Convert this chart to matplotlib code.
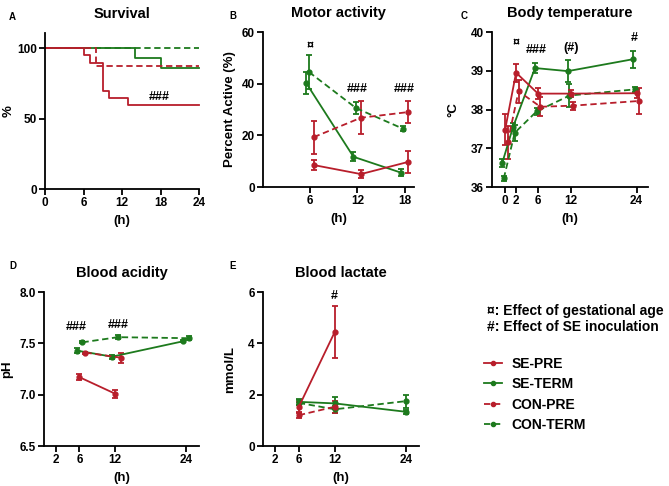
import numpy as np
import matplotlib
matplotlib.use('Agg')
import matplotlib.pyplot as plt
from matplotlib.lines import Line2D

plt.rcParams['font.family'] = ['Liberation Sans', 'DejaVu Sans']
plt.rcParams['font.weight'] = 'bold'

RED = '#B81E2B'
GREEN = '#1D7A1D'
groups = ['SE-PRE', 'SE-TERM', 'CON-PRE', 'CON-TERM']

# survival (step curves)
surv_t = {'SE-PRE': [0, 6, 7, 9, 10, 13, 24],
          'SE-TERM': [0, 14, 18, 24],
          'CON-PRE': [0, 8, 24],
          'CON-TERM': [0, 24]}
surv_pct = {'SE-PRE': [100, 95, 90, 70, 65, 60, 60],
            'SE-TERM': [100, 93, 86, 86],
            'CON-PRE': [100, 87.5, 87.5],
            'CON-TERM': [100, 100]}

# motor activity
motor_t = [6, 12, 18]
motor_mean = {'SE-PRE': [8.5, 5.0, 9.7], 'SE-TERM': [40.2, 11.7, 5.6],
              'CON-PRE': [19.3, 26.8, 29.0], 'CON-TERM': [44.5, 30.5, 22.5]}
motor_err = {'SE-PRE': [1.8, 1.5, 4.4], 'SE-TERM': [4.3, 1.8, 1.5],
             'CON-PRE': [6.4, 6.3, 4.1], 'CON-TERM': [6.5, 2.3, 1.0]}

# body temperature
temp_t = [0, 2, 6, 12, 24]
temp_mean = {'SE-PRE': [37.48, 38.95, 38.41, 38.41, 38.42],
             'SE-TERM': [36.61, 37.55, 39.07, 38.99, 39.30],
             'CON-PRE': [37.15, 38.47, 38.07, 38.10, 38.22],
             'CON-TERM': [36.22, 37.40, 37.95, 38.36, 38.52]}
temp_err = {'SE-PRE': [0.40, 0.23, 0.15, 0.10, 0.12],
            'SE-TERM': [0.10, 0.10, 0.13, 0.28, 0.22],
            'CON-PRE': [0.42, 0.30, 0.25, 0.10, 0.33],
            'CON-TERM': [0.07, 0.20, 0.08, 0.30, 0.06]}

# blood pH
ph_t = {'SE-PRE': [6, 12], 'SE-TERM': [6, 12, 24], 'CON-PRE': [6, 12], 'CON-TERM': [6, 12, 24]}
ph_mean = {'SE-PRE': [7.17, 7.01], 'SE-TERM': [7.43, 7.37, 7.52],
           'CON-PRE': [7.41, 7.36], 'CON-TERM': [7.51, 7.56, 7.55]}
ph_err = {'SE-PRE': [0.03, 0.04], 'SE-TERM': [0.02, 0.02, 0.01],
          'CON-PRE': [0.01, 0.05], 'CON-TERM': [0.01, 0.02, 0.02]}

# blood lactate
lac_t = {'SE-PRE': [6, 12], 'SE-TERM': [6, 12, 24], 'CON-PRE': [6, 12], 'CON-TERM': [6, 12, 24]}
lac_mean = {'SE-PRE': [1.53, 4.44], 'SE-TERM': [1.72, 1.66, 1.33],
            'CON-PRE': [1.20, 1.53], 'CON-TERM': [1.68, 1.43, 1.75]}
lac_err = {'SE-PRE': [0.20, 1.03], 'SE-TERM': [0.13, 0.23, 0.09],
           'CON-PRE': [0.10, 0.23], 'CON-TERM': [0.10, 0.13, 0.25]}

style = {'SE-PRE': (RED, '-'), 'SE-TERM': (GREEN, '-'),
         'CON-PRE': (RED, (0, (3.5, 2))), 'CON-TERM': (GREEN, (0, (3.5, 2)))}
draw_order = ['CON-TERM', 'SE-TERM', 'CON-PRE', 'SE-PRE']

W, H = 669, 486
fig = plt.figure(figsize=(W / 100, H / 100), dpi=100)


def add_ax(l, r, top, bot):
    ax = fig.add_axes([l / W, 1 - bot / H, (r - l) / W, (bot - top) / H])
    for s in ['top', 'right']:
        ax.spines[s].set_visible(False)
    for s in ['left', 'bottom']:
        ax.spines[s].set_linewidth(1.3)
    ax.tick_params(width=1.3, length=4, labelsize=8.5, pad=2)
    return ax


def err_series(ax, t, m, e, offsets):
    for g in draw_order:
        if g not in m:
            continue
        c, ls = style[g]
        x = np.array(t[g] if isinstance(t, dict) else t, dtype=float) + offsets.get(g, 0)
        ax.errorbar(x, m[g], yerr=e[g], color=c, ls=ls, lw=1.3, marker='o', ms=3.5,
                    capsize=2.5, elinewidth=1.3, capthick=1.3, clip_on=False)


def finish(ax, title, letter, ylabel, lx, ly, ylx=None):
    ax.set_title(title, fontsize=10.5, fontweight='bold', pad=11)
    ax.set_xlabel('(h)', fontsize=9.5, fontweight='bold', labelpad=4)
    ax.set_ylabel(ylabel, fontsize=9.5, fontweight='bold', labelpad=4)
    if ylx is not None:
        ax.yaxis.set_label_coords(ylx, 0.5)
    fig.text(lx / W, 1 - ly / H, letter, fontsize=7, fontweight='bold', ha='left', va='center')
    for lab in ax.get_xticklabels() + ax.get_yticklabels():
        lab.set_fontweight('bold')


# A Survival
ax = add_ax(45, 199, 33, 189)
for g in draw_order:
    c, ls = style[g]
    ax.step(surv_t[g], surv_pct[g], where='post', color=c, ls=ls, lw=1.3, clip_on=False)
ax.set_xlim(0, 24)
ax.set_ylim(0, 111)
ax.set_xticks([0, 6, 12, 18, 24])
ax.set_yticks([0, 50, 100])
ax.text(17.8, 61.5, '###', fontsize=9, ha='center', va='bottom')
finish(ax, 'Survival', 'A', '%', 9, 17, ylx=-0.2)

# B Motor activity
ax = add_ax(263, 414, 32, 187)
err_series(ax, motor_t, motor_mean, motor_err,
           {'SE-PRE': 0.45, 'CON-PRE': 0.45, 'SE-TERM': -0.5, 'CON-TERM': -0.15})
ax.set_xlim(0, 19.2)
ax.set_ylim(0, 60)
ax.set_xticks([6, 12, 18])
ax.set_yticks([0, 20, 40, 60])
ax.text(6, 52, '¤', fontsize=9, ha='center', va='bottom')
ax.text(12, 35.5, '###', fontsize=9, ha='center', va='bottom')
ax.text(18, 35.5, '###', fontsize=9, ha='center', va='bottom')
finish(ax, 'Motor activity', 'B', 'Percent Active (%)', 229, 16, ylx=-0.18)

# C Body temperature
ax = add_ax(492, 648, 32, 187)
err_series(ax, temp_t, temp_mean, temp_err,
           {'SE-PRE': 0.0, 'CON-PRE': 0.45, 'SE-TERM': -0.55, 'CON-TERM': -0.25})
ax.set_xlim(-2.4, 26.1)
ax.set_ylim(36, 40)
ax.set_xticks([0, 2, 6, 12, 24])
ax.set_yticks([36, 37, 38, 39, 40])
ax.text(2, 39.55, '¤', fontsize=9, ha='center', va='bottom')
ax.text(5.6, 39.38, '###', fontsize=9, ha='center', va='bottom')
ax.text(12, 39.42, '(#)', fontsize=9, ha='center', va='bottom')
ax.text(23.6, 39.7, '#', fontsize=9, ha='center', va='bottom')
finish(ax, 'Body temperature', 'C', '°C', 461, 16, ylx=-0.21)

# D Blood acidity
ax = add_ax(44, 199, 292, 446)
err_series(ax, ph_t, ph_mean, ph_err,
           {'SE-PRE': 0.0, 'CON-PRE': 1.0, 'SE-TERM': -0.5, 'CON-TERM': 0.5})
ax.set_xlim(0, 26.2)
ax.set_ylim(6.5, 8.0)
ax.set_xticks([2, 6, 12, 24])
ax.set_yticks([6.5, 7.0, 7.5, 8.0])
ax.set_yticklabels(['6.5', '7.0', '7.5', '8.0'])
ax.text(5.5, 7.6, '###', fontsize=9, ha='center', va='bottom')
ax.text(12.6, 7.62, '###', fontsize=9, ha='center', va='bottom')
finish(ax, 'Blood acidity', 'D', 'pH', 9, 266, ylx=-0.2)

# E Blood lactate
ax = add_ax(263, 419, 292, 446)
err_series(ax, lac_t, lac_mean, lac_err, {})
ax.set_xlim(0, 26.1)
ax.set_ylim(0, 6)
ax.set_xticks([2, 6, 12, 24])
ax.set_yticks([0, 2, 4, 6])
ax.text(12, 5.62, '#', fontsize=9, ha='center', va='bottom')
finish(ax, 'Blood lactate', 'E', 'mmol/L', 229, 266, ylx=-0.17)

# notes and legend
fig.text(487 / W, 1 - 311 / H, '¤: Effect of gestational age', fontsize=10,
         fontweight='bold', ha='left', va='center')
fig.text(487 / W, 1 - 327 / H, '#: Effect of SE inoculation', fontsize=10,
         fontweight='bold', ha='left', va='center')
handles = [Line2D([0], [0], color=style[g][0], ls=style[g][1], lw=1.3, marker='o', ms=3)
           for g in groups]
fig.legend(handles, groups, loc='upper left', bbox_to_anchor=(484 / W, 1 - 357 / H),
           frameon=False, handlelength=1.3, handletextpad=0.7,
           labelspacing=0.45, borderpad=0, borderaxespad=0, numpoints=1,
           prop={'weight': 'bold', 'size': 10})

fig.savefig('out.png', dpi=100)
